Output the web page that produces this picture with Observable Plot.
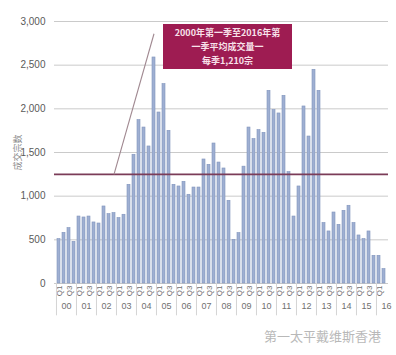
<!DOCTYPE html>
<html>
<head>
<meta charset="utf-8">
<script src="https://cdn.jsdelivr.net/npm/d3@7"></script>
<script src="https://cdn.jsdelivr.net/npm/@observablehq/plot@0.6"></script>
<style>
  html, body { margin: 0; padding: 0; background: #fff; }
  #wrap { position: relative; width: 396px; height: 355px; overflow: hidden; }
  #note {
    position: absolute; left: 163px; top: 24px; width: 129px; height: 45px;
    background: #9e1c52; color: #f8e1ea; text-align: center;
    font: bold 9px/14px "Noto Sans CJK SC", "Liberation Sans", sans-serif;
    padding-top: 2px; box-sizing: border-box;
  }
  #mark {
    position: absolute; left: 264px; top: 326px; color: #b8b8b8;
    font: 13px "Noto Sans CJK SC", sans-serif;
  }
</style>
</head>
<body>
<div id="wrap"></div>
<script>
// ---- data ----
const years = ["00","01","02","03","04","05","06","07","08","09","10","11","12","13","14","15","16"];
const quarterNames = ["Q1","Q2","Q3","Q4"];
const volumes = [
  508, 580, 634, 477,      // 00
  767, 756, 767, 699,      // 01
  687, 882, 794, 806,      // 02
  749, 787, 1130, 1474,    // 03
  1871, 1786, 1569, 2588,  // 04
  1958, 2283, 1748, 1130,  // 05
  1111, 1164, 1016, 1099,  // 06
  1099, 1420, 1359, 1603,  // 07
  1385, 1317, 947, 500,    // 08
  577, 1338, 1786, 1653,   // 09
  1756, 1725, 2206, 1985,  // 10
  1947, 2149, 1275, 767,   // 11
  1111, 2027, 1683, 2447,  // 12
  2206, 692, 596, 813,     // 13
  672, 832, 890, 692,      // 14
  550, 508, 596, 317,      // 15
  317, 165                 // 16
];
const yTicks = [0, 500, 1000, 1500, 2000, 2500, 3000];
const averageValue = 1250;   // position of the average line as drawn
const noteLines = ["2000年第一季至2016年第", "一季平均成交量一", "每季1,210宗"];
const yLabel = "成交宗数";
const pointerFrom = {period: "02Q4", value: averageValue};
const pointerTo = {period: "04Q4", value: 2860};
const sourceText = "第一太平戴维斯香港";

// ---- build table ----
const data = volumes.map((v, i) => ({
  period: years[Math.floor(i / 4)] + quarterNames[i % 4],
  year: years[Math.floor(i / 4)],
  q: quarterNames[i % 4],
  idx: i % 4,
  value: v
}));
const periods = data.map(d => d.period);
const labelTicks = data.filter(d => d.idx === 0 || d.idx === 2).map(d => d.period);
const qOf = new Map(data.map(d => [d.period, d.q]));
const yearInfo = years.map(y => {
  const ps = data.filter(d => d.year === y);
  return {year: y, start: ps[0].period, labelAt: ps.length > 1 ? ps[1].period : ps[0].period};
});

const W = 396, H = 355, mL = 54, mR = 8;
const step = (W - mL - mR) / periods.length;

const chart = Plot.plot({
  width: W, height: H,
  marginLeft: mL, marginRight: mR, marginTop: 21, marginBottom: 72,
  style: {fontFamily: "'Liberation Sans', 'Noto Sans CJK SC', sans-serif", fontSize: "10px", color: "#555", background: "#fff"},
  x: {domain: periods, padding: 0.4, axis: null},
  y: {domain: [0, 3000]},
  marks: [
    Plot.gridY(yTicks, {stroke: "#cacaca", strokeOpacity: 1, strokeWidth: 1}),
    Plot.axisY(yTicks, {
      tickSize: 0, tickPadding: 9, tickFormat: d3.format(","), fontSize: 10, fill: "#5a5a5a",
      label: null
    }),
    Plot.axisY(yTicks, {
      tickSize: 0, tickFormat: () => "", fontSize: 9, fill: "#8a8a8a",
      label: yLabel, labelAnchor: "center", labelArrow: "none", labelOffset: 40
    }),
    Plot.barY(data, {x: "period", y: "value", fill: "#9fafd2", stroke: "#8195bd", strokeWidth: 0.6}),
    Plot.ruleY([averageValue], {stroke: "#7b3c58", strokeWidth: 1.6}),
    Plot.link([{}], {
      x1: () => pointerFrom.period, y1: () => pointerFrom.value,
      x2: () => pointerTo.period, y2: () => pointerTo.value,
      stroke: "#a08890", strokeWidth: 1.1
    }),
    Plot.axisX(labelTicks, {
      tickSize: 0, tickPadding: 2, tickRotate: -90, fontSize: 8, fill: "#707070",
      tickFormat: p => qOf.get(p), label: null
    }),
    Plot.ruleX(yearInfo, {x: "start", y1: 0, y2: -370, dx: -step / 2, stroke: "#d4d4d4", strokeWidth: 1}),
    Plot.text(yearInfo, {x: "labelAt", y: 0, dx: step / 2, dy: 23, text: "year", fontSize: 9, fill: "#707070"})
  ]
});

const wrap = document.getElementById("wrap");
wrap.appendChild(chart);
const note = document.createElement("div");
note.id = "note";
note.innerHTML = noteLines.map(s => `<div>${s}</div>`).join("");
wrap.appendChild(note);
const mark = document.createElement("div");
mark.id = "mark";
mark.textContent = sourceText;
wrap.appendChild(mark);
</script>
</body>
</html>
